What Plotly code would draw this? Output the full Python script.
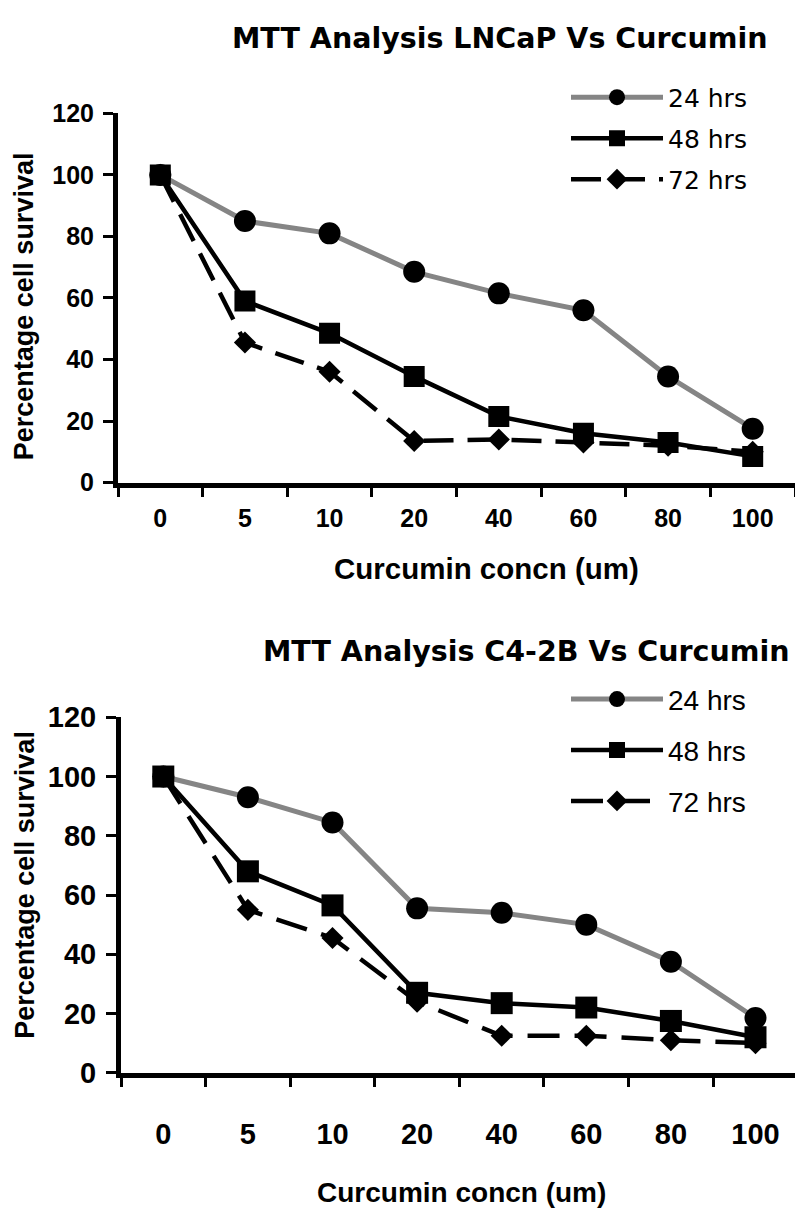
import plotly.graph_objects as go

# Curcumin concentrations (um) used as categories on both panels
conc = ["0", "5", "10", "20", "40", "60", "80", "100"]
y_ticks = [0, 20, 40, 60, 80, 100, 120]
series_names = ["24 hrs", "48 hrs", "72 hrs"]

# Percentage cell survival, LNCaP cells
lncap_24 = [100, 85, 81, 68.5, 61.5, 56, 34.5, 17.5]
lncap_48 = [100, 59, 48.5, 34.5, 21.5, 16, 13, 8.5]
lncap_72 = [100, 45.5, 36, 13.5, 14, 13, 12, 10]

# Percentage cell survival, C4-2B cells
c42b_24 = [100, 93, 84.5, 55.5, 54, 50, 37.5, 18.5]
c42b_48 = [100, 68, 56.5, 27, 23.5, 22, 17.5, 12]
c42b_72 = [100, 55, 45.5, 24, 12.5, 12.5, 11, 10]

W, H = 795, 1230
GRAY = "#858585"
SANS = "Liberation Sans, Arial, sans-serif"
WIDE = "DejaVu Sans, Verdana, sans-serif"


def px_x(v):
    return v / W


def px_y(v):
    return 1 - v / H


fig = go.Figure()

panels = [
    dict(xa="x", ya="y", legend="legend",
         data=[lncap_24, lncap_48, lncap_72],
         sizes=(22, 21, 17), dash="30px,14px"),
    dict(xa="x2", ya="y2", legend="legend2",
         data=[c42b_24, c42b_48, c42b_72],
         sizes=(22, 22, 17), dash="32px,15px"),
]

for p in panels:
    s24, s48, s72 = p["data"]
    c_size, s_size, d_size = p["sizes"]
    # draw order: 24 hrs, 72 hrs, then 48 hrs on top
    fig.add_trace(go.Scatter(
        x=conc, y=s24, name=series_names[0], mode="lines+markers",
        line=dict(color=GRAY, width=5),
        marker=dict(symbol="circle", size=c_size, color="black"),
        xaxis=p["xa"], yaxis=p["ya"], legend=p["legend"],
        legendrank=1, legendgroup=p["legend"] + "a"))
    fig.add_trace(go.Scatter(
        x=conc, y=s72, name=series_names[2], mode="lines+markers",
        line=dict(color="black", width=4.5, dash=p["dash"]),
        marker=dict(symbol="diamond", size=d_size, color="black"),
        xaxis=p["xa"], yaxis=p["ya"], legend=p["legend"],
        legendrank=3, legendgroup=p["legend"] + "c"))
    fig.add_trace(go.Scatter(
        x=conc, y=s48, name=series_names[1], mode="lines+markers",
        line=dict(color="black", width=4.5),
        marker=dict(symbol="square", size=s_size, color="black"),
        xaxis=p["xa"], yaxis=p["ya"], legend=p["legend"],
        legendrank=2, legendgroup=p["legend"] + "b"))


def xaxis_style(tick_font, standoff, rng):
    return dict(
        type="category", range=rng, tickson="boundaries",
        showline=True, linecolor="black", linewidth=5,
        ticks="outside", ticklen=9, tickwidth=3, tickcolor="black",
        tickfont=tick_font, ticklabelstandoff=standoff,
        showgrid=False, zeroline=False, fixedrange=True)


def yaxis_style(tick_font, standoff):
    return dict(
        range=[0, 120], tickvals=y_ticks,
        showline=True, linecolor="black", linewidth=5,
        ticks="outside", ticklen=10, tickwidth=3, tickcolor="black",
        tickfont=tick_font, ticklabelstandoff=standoff,
        showgrid=False, zeroline=False, fixedrange=True)


top_tick_font = dict(family=SANS, size=25, color="black", weight="bold")
bot_tick_font = dict(family=SANS, size=29, color="black", weight="bold")

fig.update_layout(
    width=W, height=H,
    margin=dict(l=0, r=0, t=0, b=0),
    paper_bgcolor="white", plot_bgcolor="white",
    xaxis=dict(domain=[px_x(118), 1.0], anchor="y",
               **xaxis_style(top_tick_font, 9, [-0.5, 7.5])),
    yaxis=dict(domain=[px_y(479), px_y(100)], anchor="x",
               **yaxis_style(top_tick_font, 4)),
    xaxis2=dict(domain=[px_x(121), 1.0], anchor="y2",
                **xaxis_style(bot_tick_font, 31, [-0.5, 7.467])),
    yaxis2=dict(domain=[px_y(1085), px_y(720)], anchor="x2",
                **yaxis_style(bot_tick_font, 4)),
    legend=dict(x=px_x(566), y=px_y(60), xanchor="left", yanchor="top",
                font=dict(family=WIDE, size=25, color="black"),
                itemwidth=92, tracegroupgap=5.5, bgcolor="rgba(0,0,0,0)",
                traceorder="grouped"),
    legend2=dict(x=px_x(566), y=px_y(676), xanchor="left", yanchor="top",
                 font=dict(family=SANS, size=28, color="black"),
                 itemwidth=92, tracegroupgap=11.5, bgcolor="rgba(0,0,0,0)",
                 traceorder="grouped"),
    showlegend=True,
)

title_font = dict(family="DejaVu Sans, Arial, sans-serif", size=28.5,
                  color="black", weight="bold")
axis_title_font = dict(family=SANS, size=27, color="black", weight="bold")

annotations = [
    dict(text="MTT Analysis LNCaP Vs Curcumin", x=px_x(499), y=px_y(23),
         font=title_font),
    dict(text="MTT Analysis C4-2B Vs Curcumin", x=px_x(526), y=px_y(652),
         font=title_font),
    dict(text="Curcumin concn (um)", x=px_x(486), y=px_y(567),
         font=dict(axis_title_font, size=29.5)),
    dict(text="Curcumin concn (um)", x=px_x(461), y=px_y(1208),
         font=dict(axis_title_font, size=28)),
    dict(text="Percentage cell survival", x=px_x(24), y=px_y(298),
         textangle=-90, font=axis_title_font),
    dict(text="Percentage cell survival", x=px_x(25), y=px_y(892),
         textangle=-90, font=axis_title_font),
]
for a in annotations:
    fig.add_annotation(xref="paper", yref="paper", showarrow=False,
                       xanchor="center", yanchor="middle", **a)

fig.write_html("out.html")
